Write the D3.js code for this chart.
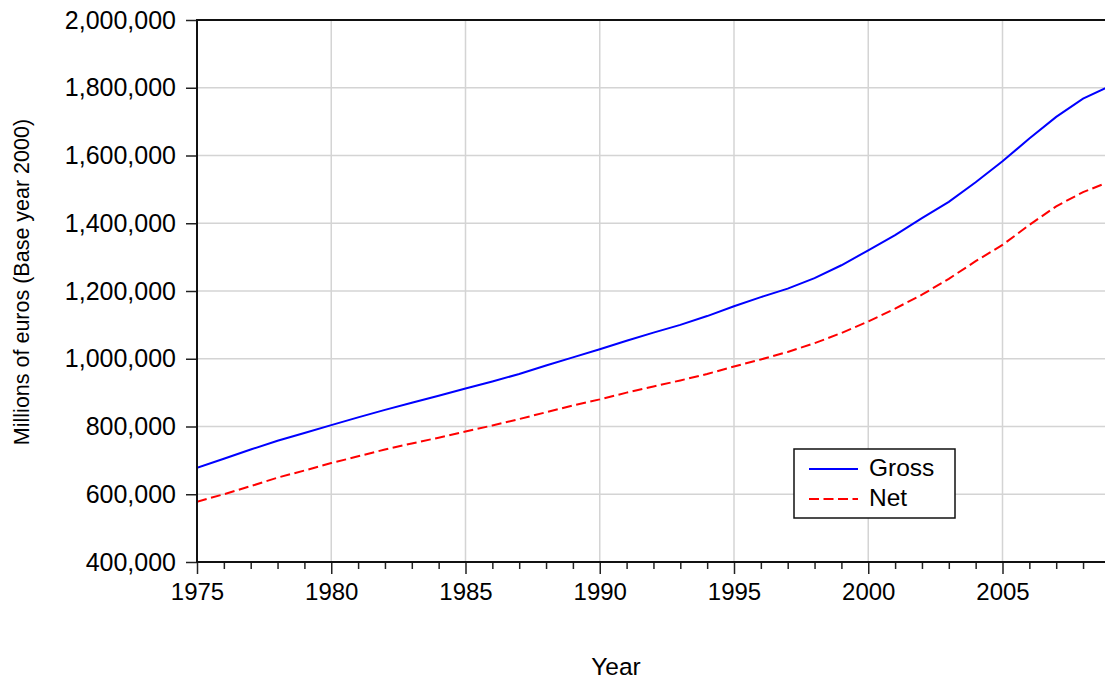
<!DOCTYPE html>
<html>
<head>
<meta charset="utf-8">
<script src="https://cdn.jsdelivr.net/npm/d3@7"></script>
<style>
  body { margin: 0; background: #fff; }
  text { font-family: "Liberation Sans", Arial, sans-serif; fill: #000; }
</style>
</head>
<body>
<div id="chart"></div>
<script>
// data (millions of euros, base year 2000)
const years = [1975, 1976, 1977, 1978, 1979, 1980, 1981, 1982, 1983, 1984,
  1985, 1986, 1987, 1988, 1989, 1990, 1991, 1992, 1993, 1994,
  1995, 1996, 1997, 1998, 1999, 2000, 2001, 2002, 2003, 2004,
  2005, 2006, 2007, 2008, 2009]
const gross = [678000, 705000, 732000, 758000, 781000, 804000, 827000, 849000, 870000, 891000,
  912000, 933000, 955000, 980000, 1004000, 1028000, 1053000, 1077000, 1100000, 1126000,
  1155000, 1182000, 1207000, 1238000, 1276000, 1320000, 1365000, 1415000, 1463000, 1521000,
  1583000, 1650000, 1714000, 1768000, 1805000]
const net = [578000, 600000, 624000, 649000, 670000, 692000, 712000, 732000, 750000, 767000,
  785000, 803000, 822000, 842000, 862000, 880000, 900000, 918000, 936000, 955000,
  977000, 998000, 1020000, 1046000, 1076000, 1110000, 1148000, 1189000, 1236000, 1288000,
  1336000, 1395000, 1450000, 1492000, 1523000]
const yTicks = [400000, 600000, 800000, 1000000, 1200000, 1400000, 1600000, 1800000, 2000000]
const xMajor = [1975, 1980, 1985, 1990, 1995, 2000, 2005]
const seriesNames = ["Gross", "Net"]

const W = 1105, H = 683
const margin = {top: 20, left: 197, bottom: 121}
const plotH = H - margin.top - margin.bottom

const svg = d3.select("#chart").append("svg")
  .attr("width", W)
  .attr("height", H)

const x = d3.scaleLinear()
  .domain([1975, 2009])
  .range([margin.left, margin.left + 34 * 26.85])
const y = d3.scaleLinear()
  .domain([400000, 2000000])
  .range([margin.top + plotH, margin.top])

svg.append("clipPath").attr("id", "clip")
  .append("rect")
  .attr("x", margin.left).attr("y", 0)
  .attr("width", W - margin.left).attr("height", H)

// grid
const grid = svg.append("g").attr("clip-path", "url(#clip)")
grid.selectAll(".gy")
  .data(yTicks.slice(1, -1))
  .join("line")
  .attr("x1", margin.left).attr("x2", W)
  .attr("y1", d => y(d)).attr("y2", d => y(d))
  .attr("stroke", "#d4d4d4").attr("stroke-width", 1.5)
grid.selectAll(".gx")
  .data(xMajor.slice(1))
  .join("line")
  .attr("x1", d => x(d)).attr("x2", d => x(d))
  .attr("y1", margin.top).attr("y2", margin.top + plotH)
  .attr("stroke", "#d4d4d4").attr("stroke-width", 1.5)

// lines
const line = vals => d3.line()
  .x((d, i) => x(years[i]))
  .y(d => y(d))(vals)

const plot = svg.append("g").attr("clip-path", "url(#clip)")
plot.append("path")
  .attr("d", line(gross))
  .attr("fill", "none").attr("stroke", "#0000ff").attr("stroke-width", 2)
plot.append("path")
  .attr("d", line(net))
  .attr("fill", "none").attr("stroke", "#ff0000").attr("stroke-width", 2)
  .attr("stroke-dasharray", "10,4.5")

// axes
const yAxis = svg.append("g")
  .attr("transform", `translate(${margin.left},0)`)
  .call(d3.axisLeft(y).tickValues(yTicks).tickFormat(d3.format(",")).tickSize(11).tickPadding(10))
yAxis.select(".domain").remove()
yAxis.selectAll("line").attr("stroke", "#222").attr("stroke-width", 1.5)
yAxis.selectAll("text").attr("font-size", 25).style("font-family", "Liberation Sans, Arial, sans-serif")

const xMinor = years.filter(d => xMajor.indexOf(d) < 0)
const xAxisMinor = svg.append("g")
  .attr("transform", `translate(0,${margin.top + plotH})`)
  .call(d3.axisBottom(x).tickValues(xMinor).tickSize(7).tickFormat(""))
xAxisMinor.select(".domain").remove()
xAxisMinor.selectAll("line").attr("stroke", "#222").attr("stroke-width", 1.5)

const xAxis = svg.append("g")
  .attr("transform", `translate(0,${margin.top + plotH})`)
  .call(d3.axisBottom(x).tickValues(xMajor).tickFormat(d3.format("d")).tickSize(12).tickPadding(9))
xAxis.select(".domain").remove()
xAxis.selectAll("line").attr("stroke", "#222").attr("stroke-width", 1.5)
xAxis.selectAll("text").attr("font-size", 24).style("font-family", "Liberation Sans, Arial, sans-serif")

// frame
svg.append("line")
  .attr("x1", margin.left).attr("x2", margin.left)
  .attr("y1", margin.top - 1).attr("y2", margin.top + plotH + 1)
  .attr("stroke", "#111").attr("stroke-width", 2)
svg.append("line")
  .attr("x1", margin.left - 1).attr("x2", W)
  .attr("y1", margin.top).attr("y2", margin.top)
  .attr("stroke", "#111").attr("stroke-width", 2)
svg.append("line")
  .attr("x1", margin.left - 1).attr("x2", W)
  .attr("y1", margin.top + plotH).attr("y2", margin.top + plotH)
  .attr("stroke", "#111").attr("stroke-width", 2)

// titles
svg.append("text")
  .attr("transform", "translate(29,282) rotate(-90)")
  .attr("text-anchor", "middle")
  .attr("font-size", 21.5)
  .text("Millions of euros (Base year 2000)")
svg.append("text")
  .attr("x", 616).attr("y", 675)
  .attr("text-anchor", "middle")
  .attr("font-size", 24.5)
  .text("Year")

// legend
const legend = svg.append("g").attr("transform", "translate(794,449)")
legend.append("rect")
  .attr("width", 161).attr("height", 69)
  .attr("fill", "#fff").attr("stroke", "#111").attr("stroke-width", 1.5)
const items = legend.selectAll(".item")
  .data(seriesNames)
  .join("g")
  .attr("transform", (d, i) => `translate(0,${20 + i * 30})`)
items.append("line")
  .attr("x1", 15).attr("x2", 64)
  .attr("stroke", (d, i) => i === 0 ? "#0000ff" : "#ff0000")
  .attr("stroke-width", 2)
  .attr("stroke-dasharray", (d, i) => i === 0 ? null : "10,4.5")
items.append("text")
  .attr("x", 75).attr("y", 7)
  .attr("font-size", 24.5)
  .text(d => d)
</script>
</body>
</html>
